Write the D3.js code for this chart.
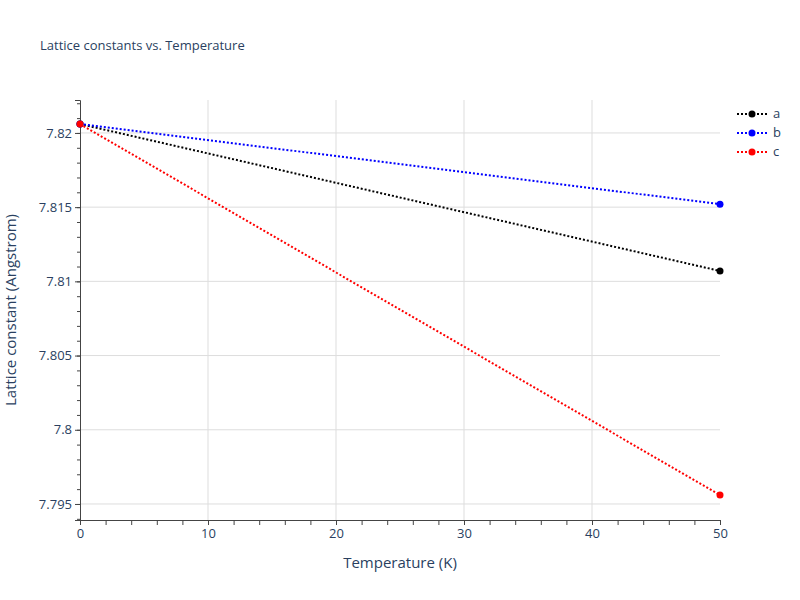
<!DOCTYPE html>
<html><head><meta charset="utf-8">
<script src="https://cdn.jsdelivr.net/npm/d3@7"></script>
<style>body{margin:0;background:#fff}text{font-family:"Open Sans",sans-serif}</style>
</head><body><svg id="c" width="800" height="600"></svg>
<script>
// data
var temps = [0, 50];
var seriesNames = ["a", "b", "c"];
var seriesColors = ["black", "blue", "red"];
var aValues = [7.8206, 7.8107];
var bValues = [7.8206, 7.8152];
var cValues = [7.8206, 7.7956];
var yTicks = [7.795, 7.8, 7.805, 7.81, 7.815, 7.82];
var yTickLabels = ["7.795", "7.8", "7.805", "7.81", "7.815", "7.82"];
var xTicks = [0, 10, 20, 30, 40, 50];

var svg = d3.select('#c');
var x = d3.scaleLinear().domain([0, 50]).range([80, 720]);
var y = d3.scaleLinear().domain([7.79392, 7.82222]).range([520, 100]);

// grid
svg.selectAll('.gx').data(xTicks.slice(1, -1)).enter().append('line')
  .attr('x1', d => x(d)).attr('x2', d => x(d)).attr('y1', 100).attr('y2', 520)
  .attr('stroke', '#ddd');
svg.selectAll('.gy').data(yTicks).enter().append('line')
  .attr('x1', 80).attr('x2', 720).attr('y1', d => y(d)).attr('y2', d => y(d))
  .attr('stroke', '#ddd');

// axes
var xAxis = d3.axisBottom(x).tickValues(xTicks).tickSize(0).tickPadding(9);
var gx = svg.append('g').attr('transform', 'translate(0,520)').call(xAxis);
gx.select('.domain').attr('stroke', '#444');
gx.selectAll('text').attr('fill', '#2a3f5f').attr('font-size', 13);
// minor ticks on x
svg.append('g').attr('transform', 'translate(0,520)')
  .call(d3.axisBottom(x).tickValues(d3.range(0, 51, 2)).tickSize(5).tickFormat(''))
  .call(g => g.select('.domain').remove())
  .selectAll('line').attr('stroke', '#444');

var yAxis = d3.axisLeft(y).tickValues(yTicks).tickSize(5).tickPadding(3)
  .tickFormat((d, i) => yTickLabels[i]);
var gy = svg.append('g').attr('transform', 'translate(80,0)').call(yAxis);
gy.select('.domain').attr('stroke', '#444');
gy.selectAll('line').attr('stroke', '#444');
gy.selectAll('text').attr('fill', '#2a3f5f').attr('font-size', 13);
svg.append('g').attr('transform', 'translate(80,0)')
  .call(d3.axisLeft(y).tickValues(d3.range(7.794, 7.8221, 0.001)).tickSize(3).tickFormat(''))
  .call(g => g.select('.domain').remove())
  .selectAll('line').attr('stroke', '#444');

// series
var allValues = [aValues, bValues, cValues];
var line = d3.line().x((d, i) => x(temps[i])).y(d => y(d));
allValues.forEach(function (vals, k) {
  svg.append('path').attr('d', line(vals)).attr('fill', 'none')
    .attr('stroke', seriesColors[k]).attr('stroke-width', 2).attr('stroke-dasharray', '2,2');
  svg.selectAll('.p' + k).data(vals).enter().append('circle')
    .attr('cx', (d, i) => x(temps[i])).attr('cy', d => y(d)).attr('r', 3.5)
    .attr('fill', seriesColors[k]);
});

// legend
seriesNames.forEach(function (n, k) {
  var ly = 114 + k * 19;
  svg.append('line').attr('x1', 737).attr('x2', 767).attr('y1', ly).attr('y2', ly)
    .attr('stroke', seriesColors[k]).attr('stroke-width', 2).attr('stroke-dasharray', '2,2');
  svg.append('circle').attr('cx', 752).attr('cy', ly).attr('r', 3.5).attr('fill', seriesColors[k]);
  svg.append('text').attr('x', 773).attr('y', ly + 4).text(n).attr('font-size', 13).attr('fill', '#2a3f5f');
});

// titles
svg.append('text').attr('x', 40).attr('y', 50).text('Lattice constants vs. Temperature')
  .attr('font-size', 13).attr('fill', '#2a3f5f');
svg.append('text').attr('x', 400).attr('y', 568).attr('text-anchor', 'middle')
  .text('Temperature (K)').attr('font-size', 15).attr('fill', '#2a3f5f');
svg.append('text').attr('transform', 'translate(16,310) rotate(-90)').attr('text-anchor', 'middle')
  .text('Lattice constant (Angstrom)').attr('font-size', 15).attr('fill', '#2a3f5f');
</script></body></html>
